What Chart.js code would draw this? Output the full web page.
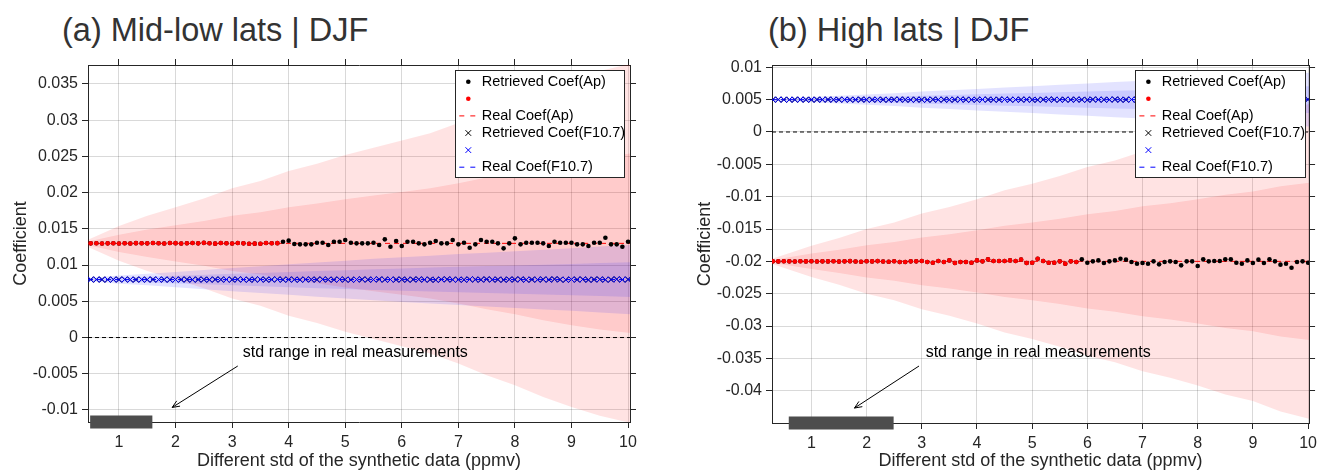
<!DOCTYPE html>
<html>
<head>
<meta charset="utf-8">
<title>Retrieved vs real coefficients</title>
<script src="https://cdn.jsdelivr.net/npm/chart.js@4.4.1/dist/chart.umd.min.js"></script>
<style>
  html, body { margin: 0; padding: 0; background: #fff; }
  body { position: relative; width: 1322px; height: 472px; overflow: hidden;
         font-family: "Liberation Sans", Arial, Helvetica, sans-serif; }
  .panel { position: absolute; top: 0; height: 472px; }
  .panel-title { position: absolute; top: 14px; margin: 0; font-size: 32.5px; font-weight: normal;
                 line-height: 1; color: #333; white-space: nowrap; }
</style>
</head>
<body>
<h2 class="panel-title" style="left:62px">(a) Mid-low lats | DJF</h2>
<h2 class="panel-title" style="left:768px">(b) High lats | DJF</h2>
<div class="panel" style="left:0;width:660px"><canvas id="chartA" width="660" height="472"></canvas></div>
<div class="panel" style="left:680px;width:642px"><canvas id="chartB" width="642" height="472"></canvas></div>
<script>
(function () {
  "use strict";

  const FONT = '"Liberation Sans", Arial, Helvetica, sans-serif';
  const INK = "#262626";
  const GRID = "rgba(0, 0, 0, 0.15)";

  // std grid of the synthetic data, 0.1 ppmv steps
  function stepGrid(from, to) {
    const out = [];
    for (let i = Math.round(from * 10); i <= Math.round(to * 10); i++) out.push(i / 10);
    return out;
  }

  // ---- shared labels ----
  const xTicks = [1, 2, 3, 4, 5, 6, 7, 8, 9, 10];
  const xTitle = "Different std of the synthetic data (ppmv)";
  const yTitle = "Coefficient";
  const noteText = "std range in real measurements";

  // ---- (a) Mid-low lats | DJF ----
  const xRangeA = [0.452, 10.035];
  const yRangeA = [-0.01166, 0.03762];
  const yTicksA = [-0.01, -0.005, 0, 0.005, 0.01, 0.015, 0.02, 0.025, 0.03, 0.035];
  const stdA = stepGrid(0.5, 10.0);
  const apRealA = 0.013;
  const f107RealA = 0.008;
  const apSigFromA = 3.9; // black dots from here on, red before
  const apRetrA = [
    0.01300, 0.01301, 0.01299, 0.01300, 0.01302, 0.01299, 0.01301, 0.01298, 0.01303, 0.01301,
    0.01300, 0.01304, 0.01301, 0.01298, 0.01305, 0.01303, 0.01297, 0.01302, 0.01305, 0.01300,
    0.01307, 0.01302, 0.01296, 0.01305, 0.01301, 0.01298, 0.01304, 0.01300, 0.01294, 0.01296,
    0.01295, 0.01304, 0.01302, 0.01303,
    0.01323, 0.01337, 0.01291, 0.01286, 0.01286, 0.01286, 0.01309, 0.01309, 0.01277, 0.01323,
    0.01323, 0.01346, 0.01309, 0.01300, 0.01300, 0.01300, 0.01309, 0.01277,
    0.01355, 0.01254, 0.01332, 0.01263, 0.01323, 0.01323, 0.01300, 0.01286, 0.01309, 0.01332,
    0.01300, 0.01300, 0.01346, 0.01286, 0.01309, 0.01240, 0.01286, 0.01346, 0.01323, 0.01323,
    0.01300, 0.01231, 0.01300, 0.01369, 0.01286, 0.01309, 0.01309, 0.01309, 0.01300, 0.01263,
    0.01323, 0.01309, 0.01309, 0.01309, 0.01286, 0.01286, 0.01263, 0.01309, 0.01309, 0.01378,
    0.01286, 0.01286, 0.01254, 0.01323
  ];
  const f107RetrA = [
    0.00800, 0.00801, 0.00800, 0.00799, 0.00801, 0.00800, 0.00802, 0.00799, 0.00800, 0.00801,
    0.00799, 0.00802, 0.00800, 0.00801, 0.00798, 0.00801, 0.00800, 0.00802, 0.00799, 0.00801,
    0.00800, 0.00798, 0.00802, 0.00800, 0.00801, 0.00799, 0.00803, 0.00800, 0.00798, 0.00801,
    0.00802, 0.00799, 0.00800, 0.00803, 0.00798, 0.00801, 0.00800, 0.00797, 0.00802, 0.00801,
    0.00799, 0.00803, 0.00800, 0.00798, 0.00802, 0.00800, 0.00797, 0.00801, 0.00803, 0.00799,
    0.00800, 0.00804, 0.00798, 0.00801, 0.00799, 0.00802, 0.00797, 0.00801, 0.00803, 0.00799,
    0.00800, 0.00796, 0.00802, 0.00804, 0.00799, 0.00800, 0.00797, 0.00803, 0.00801, 0.00798,
    0.00805, 0.00799, 0.00801, 0.00796, 0.00802, 0.00800, 0.00804, 0.00797, 0.00801, 0.00799,
    0.00803, 0.00798, 0.00806, 0.00800, 0.00797, 0.00802, 0.00799, 0.00804, 0.00796, 0.00801,
    0.00803, 0.00798, 0.00800, 0.00805, 0.00799, 0.00802
  ];
  // spread of the retrievals (1 sigma), sampled every 0.5 ppmv
  const bandXA = [0.45, 1.0, 1.5, 2.0, 2.5, 3.0, 3.5, 4.0, 4.5, 5.0, 5.5, 6.0, 6.5, 7.0, 7.5, 8.0, 8.5, 9.0, 9.5, 10.05];
  const apSigmaA = [0.00025, 0.0012, 0.0019, 0.0025, 0.0031, 0.0038, 0.0043, 0.0050, 0.0055, 0.0061,
                    0.0066, 0.0071, 0.0076, 0.0083, 0.0091, 0.0098, 0.0106, 0.0113, 0.0119, 0.0124];
  const f107SigmaA = [0.0001, 0.00028, 0.0004, 0.00053, 0.00066, 0.0008, 0.00092, 0.00105, 0.00118, 0.0013,
                      0.00143, 0.00154, 0.00165, 0.00176, 0.00186, 0.00196, 0.00206, 0.00216, 0.00228, 0.0024];
  const realStdA = [0.49, 1.59];
  const noteA = { textAt: [3.19, -0.00214], from: [3.10, -0.00393], to: [1.94, -0.00965] };

  // ---- (b) High lats | DJF ----
  const xRangeB = [0.286, 10.018];
  const yRangeB = [-0.04499, 0.010356];
  const yTicksB = [-0.04, -0.035, -0.03, -0.025, -0.02, -0.015, -0.01, -0.005, 0, 0.005, 0.01];
  const stdB = stepGrid(0.3, 10.0);
  const apRealB = -0.02;
  const f107RealB = 0.005;
  const apSigFromB = 5.9;
  const apRetrB = [
    -0.02000, -0.02001, -0.01999, -0.02000, -0.02002, -0.01999, -0.02001, -0.01998, -0.02003, -0.02000,
    -0.02001, -0.01998, -0.02004, -0.02000, -0.01997, -0.02002, -0.02005, -0.01999, -0.02001, -0.01996,
    -0.02003, -0.02006, -0.01999,
    -0.02010, -0.02010, -0.02000, -0.02000, -0.01995, -0.02010, -0.02021, -0.01995, -0.02010, -0.01985,
    -0.02026, -0.02010, -0.02010, -0.02021, -0.01985, -0.02000, -0.01969, -0.01995, -0.01995, -0.01995,
    -0.01985, -0.01995, -0.01974, -0.02026, -0.02021, -0.01959, -0.01995, -0.02021, -0.02021, -0.02000,
    -0.02036, -0.02000, -0.02010,
    -0.01969, -0.02021, -0.02000, -0.01985, -0.02026, -0.02000, -0.01985, -0.01959, -0.01974, -0.02010,
    -0.02036, -0.02026, -0.02036, -0.02000, -0.02046, -0.02010, -0.02000, -0.02010, -0.02062, -0.02000,
    -0.02000, -0.02072, -0.01969, -0.02000, -0.01995, -0.01995, -0.01969, -0.01969, -0.02021, -0.02036,
    -0.01985, -0.02026, -0.01974, -0.02026, -0.01969, -0.02000, -0.02051, -0.02036, -0.02098, -0.02010,
    -0.02000, -0.02021
  ];
  const f107RetrB = [
    0.00500, 0.00501, 0.00500, 0.00499, 0.00500, 0.00501, 0.00500, 0.00499, 0.00501, 0.00500,
    0.00502, 0.00499, 0.00500, 0.00501, 0.00499, 0.00500, 0.00502, 0.00500, 0.00499, 0.00501,
    0.00500, 0.00498, 0.00501, 0.00502, 0.00500, 0.00499, 0.00501, 0.00500, 0.00498, 0.00502,
    0.00500, 0.00501, 0.00499, 0.00500, 0.00503, 0.00499, 0.00500, 0.00498, 0.00502, 0.00501,
    0.00499, 0.00500, 0.00503, 0.00498, 0.00501, 0.00500, 0.00502, 0.00499, 0.00497, 0.00501,
    0.00503, 0.00500, 0.00498, 0.00501, 0.00499, 0.00502, 0.00500, 0.00497, 0.00503, 0.00501,
    0.00499, 0.00500, 0.00504, 0.00498, 0.00500, 0.00502, 0.00499, 0.00497, 0.00503, 0.00500,
    0.00501, 0.00498, 0.00504, 0.00500, 0.00499, 0.00502, 0.00497, 0.00501, 0.00503, 0.00499,
    0.00500, 0.00505, 0.00498, 0.00501, 0.00496, 0.00502, 0.00500, 0.00503, 0.00498, 0.00501,
    0.00504, 0.00499, 0.00500, 0.00497, 0.00502, 0.00501, 0.00499, 0.00503
  ];
  const bandXB = [0.29, 1.0, 1.5, 2.0, 2.5, 3.0, 3.5, 4.0, 4.5, 5.0, 5.5, 6.0, 6.5, 7.0, 7.5, 8.0, 8.5, 9.0, 9.5, 10.05];
  const apSigmaB = [0.0002, 0.0012, 0.0018, 0.0025, 0.0030, 0.0037, 0.0042, 0.0048, 0.0055, 0.0060,
                    0.0066, 0.0073, 0.0078, 0.0085, 0.0090, 0.0096, 0.0103, 0.0108, 0.0116, 0.0122];
  const f107SigmaB = [0.00006, 0.0002, 0.0003, 0.0004, 0.0005, 0.00062, 0.00072, 0.00083, 0.00094, 0.00104,
                      0.00115, 0.00125, 0.00136, 0.00146, 0.00156, 0.00166, 0.00177, 0.00187, 0.00197, 0.00208];
  const realStdB = [0.59, 2.49];
  const noteB = { textAt: [3.07, -0.03417], from: [2.95, -0.03618], to: [1.78, -0.04268] };

  // ---- helpers ----
  const pts = (xs, ys) => xs.map((x, i) => ({ x: x, y: ys[i] }));
  const flat = (x0, x1, y) => [{ x: x0, y: y }, { x: x1, y: y }];
  const band = (xs, centre, sig, k) => xs.map((x, i) => ({ x: x, y: centre + k * sig[i] }));

  const RED = "#ff0000";
  const BLUE = "#0000ff";
  const RED_FILL = "rgba(255, 0, 0, 0.11)";
  const BLUE_FILL = "rgba(0, 0, 255, 0.11)";

  function buildDatasets(p) {
    const hidden = "rgba(0,0,0,0)";
    const bandSet = (data, order, fill, colour) => ({
      data: data, order: order, fill: fill, backgroundColor: colour,
      borderColor: hidden, borderWidth: 0, pointRadius: 0
    });
    return [
      { label: "Retrieved Coef(Ap)", inLegend: true, order: 3, data: pts(p.xs, p.ap), showLine: false,
        pointStyle: "circle", pointRadius: 2.3, pointBackgroundColor: "#000", pointBorderColor: "#000", pointBorderWidth: 0 },
      { label: "", inLegend: true, order: 2, data: pts(p.xs, p.ap).filter((d) => d.x < p.sigFrom), showLine: false,
        pointStyle: "circle", pointRadius: 2.3, pointBackgroundColor: RED, pointBorderColor: RED, pointBorderWidth: 0 },
      { label: "Real Coef(Ap)", inLegend: true, order: 6, data: flat(p.xMin, p.xMax, p.apReal),
        borderColor: RED, borderWidth: 1, borderDash: [5, 4], pointRadius: 0 },
      { label: "Retrieved Coef(F10.7)", inLegend: true, order: 5, data: pts(p.xs, p.f107), showLine: false,
        pointStyle: "crossRot", pointRadius: 4, pointBorderColor: "#000", pointBorderWidth: 1 },
      { label: "", inLegend: true, order: 4, data: pts(p.xs, p.f107), showLine: false,
        pointStyle: "crossRot", pointRadius: 4, pointBorderColor: BLUE, pointBorderWidth: 1 },
      { label: "Real Coef(F10.7)", inLegend: true, order: 7, data: flat(p.xMin, p.xMax, p.f107Real),
        borderColor: BLUE, borderWidth: 1, borderDash: [5, 4], pointRadius: 0 },
      { label: "zero", order: 8, data: flat(p.xMin, p.xMax, 0),
        borderColor: "#000", borderWidth: 1, borderDash: [4, 3], pointRadius: 0 },
      // 2 sigma / 1 sigma bands (indices 7..14)
      bandSet(band(p.bandX, p.apReal, p.apSig, 2), 12, 8, RED_FILL),
      bandSet(band(p.bandX, p.apReal, p.apSig, -2), 12, false, RED_FILL),
      bandSet(band(p.bandX, p.apReal, p.apSig, 1), 11, 10, RED_FILL),
      bandSet(band(p.bandX, p.apReal, p.apSig, -1), 11, false, RED_FILL),
      bandSet(band(p.bandX, p.f107Real, p.fSig, 2), 10, 12, BLUE_FILL),
      bandSet(band(p.bandX, p.f107Real, p.fSig, -2), 10, false, BLUE_FILL),
      bandSet(band(p.bandX, p.f107Real, p.fSig, 1), 9, 14, BLUE_FILL),
      bandSet(band(p.bandX, p.f107Real, p.fSig, -1), 9, false, BLUE_FILL),
      // std range of the real measurements, sitting on the x axis
      { label: "real std", order: 1, data: flat(p.realStd[0], p.realStd[1], p.yMin), clip: false,
        borderColor: "#4d4d4d", borderWidth: 13, borderCapStyle: "butt", pointRadius: 0 }
    ];
  }

  // legend box drawn inside the axes, top right
  const legendBox = {
    id: "legendBox",
    afterDatasetsDraw(chart, args, o) {
      const ctx = chart.ctx;
      const a = chart.chartArea;
      const items = chart.data.datasets.filter((d) => d.inLegend);
      const x0 = Math.round(a.right - o.inset - o.width);
      const y0 = Math.round(a.top + o.top);
      ctx.save();
      ctx.fillStyle = "#fff";
      ctx.fillRect(x0, y0, o.width, o.height);
      ctx.strokeStyle = INK;
      ctx.lineWidth = 1;
      ctx.strokeRect(x0 + 0.5, y0 + 0.5, o.width, o.height);
      ctx.font = "14.5px " + FONT;
      ctx.textBaseline = "middle";
      items.forEach((d, i) => {
        const cy = y0 + o.firstRow + i * o.rowGap;
        const mx = x0 + o.markX;
        if (d.showLine === false && d.pointStyle === "circle") {
          ctx.fillStyle = d.pointBackgroundColor;
          ctx.beginPath();
          ctx.arc(mx, cy, d.pointRadius, 0, Math.PI * 2);
          ctx.fill();
        } else if (d.showLine === false) {
          const r = d.pointRadius * Math.SQRT1_2;
          ctx.strokeStyle = d.pointBorderColor;
          ctx.setLineDash([]);
          ctx.beginPath();
          ctx.moveTo(mx - r, cy - r); ctx.lineTo(mx + r, cy + r);
          ctx.moveTo(mx - r, cy + r); ctx.lineTo(mx + r, cy - r);
          ctx.stroke();
        } else {
          ctx.strokeStyle = d.borderColor;
          ctx.setLineDash([5, 6]);
          ctx.beginPath();
          ctx.moveTo(mx - 9, cy); ctx.lineTo(mx + 9, cy);
          ctx.stroke();
          ctx.setLineDash([]);
        }
        if (d.label) {
          ctx.fillStyle = "#000";
          ctx.fillText(d.label, x0 + o.textX, cy);
        }
      });
      ctx.restore();
    }
  };

  // text + arrow pointing at the real-measurement std range
  const arrowNote = {
    id: "arrowNote",
    afterDatasetsDraw(chart, args, o) {
      const ctx = chart.ctx;
      const sx = chart.scales.x, sy = chart.scales.y;
      const x0 = sx.getPixelForValue(o.from[0]), y0 = sy.getPixelForValue(o.from[1]);
      const x1 = sx.getPixelForValue(o.to[0]), y1 = sy.getPixelForValue(o.to[1]);
      ctx.save();
      ctx.fillStyle = "#000";
      ctx.font = "16px " + FONT;
      ctx.textBaseline = "middle";
      ctx.fillText(o.text, sx.getPixelForValue(o.textAt[0]), sy.getPixelForValue(o.textAt[1]));
      ctx.strokeStyle = "#000";
      ctx.lineWidth = 1;
      ctx.beginPath();
      ctx.moveTo(x0, y0);
      ctx.lineTo(x1, y1);
      ctx.stroke();
      const ang = Math.atan2(y1 - y0, x1 - x0);
      const L = 8, w = 0.4;
      ctx.beginPath();
      ctx.moveTo(x1 - L * Math.cos(ang - w), y1 - L * Math.sin(ang - w));
      ctx.lineTo(x1, y1);
      ctx.lineTo(x1 - L * Math.cos(ang + w), y1 - L * Math.sin(ang + w));
      ctx.stroke();
      ctx.restore();
    }
  };

  function buildScales(p) {
    const setTicks = (arr) => (s) => { s.ticks = arr.map((v) => ({ value: v })); };
    const tickFont = () => ({ family: FONT, size: 16 });
    const border = () => ({ color: INK, width: 1 });
    return {
      x: {
        type: "linear", position: "bottom", min: p.xMin, max: p.xMax,
        afterBuildTicks: setTicks(xTicks),
        afterFit: (s) => { s.height = p.xAxisH; },
        ticks: { font: tickFont(), color: INK, padding: 5, maxRotation: 0, autoSkip: false, callback: (v) => String(v) },
        grid: { color: GRID, tickColor: INK, tickLength: 6, lineWidth: 1 },
        border: border(),
        title: { display: true, text: xTitle, color: INK, font: { family: FONT, size: 18 }, padding: { top: 0, bottom: 0 } }
      },
      x2: {
        type: "linear", position: "top", min: p.xMin, max: p.xMax,
        afterBuildTicks: setTicks(xTicks),
        afterFit: (s) => { s.height = 6; },
        ticks: { display: false },
        grid: { drawOnChartArea: false, tickColor: INK, tickLength: 6 },
        border: border()
      },
      y: {
        type: "linear", position: "left", min: p.yMin, max: p.yMax,
        afterBuildTicks: setTicks(p.yTicks),
        afterFit: (s) => { s.width = p.yAxisW; },
        ticks: { font: tickFont(), color: INK, padding: 4, autoSkip: false, callback: (v) => String(v) },
        grid: { color: GRID, tickColor: INK, tickLength: 6, lineWidth: 1 },
        border: border(),
        title: { display: true, text: yTitle, color: INK, font: { family: FONT, size: 18 }, padding: { top: p.yTitlePad, bottom: 0 } }
      },
      y2: {
        type: "linear", position: "right", min: p.yMin, max: p.yMax,
        afterBuildTicks: setTicks(p.yTicks),
        afterFit: (s) => { s.width = 6; },
        ticks: { display: false },
        grid: { drawOnChartArea: false, tickColor: INK, tickLength: 6 },
        border: border()
      }
    };
  }

  function makeChart(canvasId, p) {
    return new Chart(document.getElementById(canvasId), {
      type: "line",
      data: { datasets: buildDatasets(p) },
      options: {
        responsive: false,
        devicePixelRatio: 1,
        animation: false,
        events: [],
        layout: { padding: p.padding },
        elements: { line: { tension: 0 }, point: { radius: 0 } },
        scales: buildScales(p),
        plugins: {
          legend: { display: false },
          tooltip: { enabled: false },
          title: { display: false },
          legendBox: p.legend,
          arrowNote: { text: noteText, textAt: p.note.textAt, from: p.note.from, to: p.note.to }
        }
      },
      plugins: [legendBox, arrowNote]
    });
  }

  const legendRows = { top: 5, height: 107, firstRow: 11.7, rowGap: 17.1, textX: 26.7 };

  makeChart("chartA", {
    xs: stdA, ap: apRetrA, f107: f107RetrA, sigFrom: apSigFromA,
    apReal: apRealA, f107Real: f107RealA,
    bandX: bandXA, apSig: apSigmaA, fSig: f107SigmaA, realStd: realStdA,
    xMin: xRangeA[0], xMax: xRangeA[1], yMin: yRangeA[0], yMax: yRangeA[1], yTicks: yTicksA,
    padding: { left: 0, right: 24, top: 59, bottom: 0 },
    xAxisH: 50, yAxisW: 88, yTitlePad: 10,
    legend: Object.assign({ inset: 6, width: 169, markX: 13.3 }, legendRows),
    note: noteA
  });

  makeChart("chartB", {
    xs: stdB, ap: apRetrB, f107: f107RetrB, sigFrom: apSigFromB,
    apReal: apRealB, f107Real: f107RealB,
    bandX: bandXB, apSig: apSigmaB, fSig: f107SigmaB, realStd: realStdB,
    xMin: xRangeB[0], xMax: xRangeB[1], yMin: yRangeB[0], yMax: yRangeB[1], yTicks: yTicksB,
    padding: { left: 0, right: 3, top: 59, bottom: 0 },
    xAxisH: 49, yAxisW: 92, yTitlePad: 14,
    legend: Object.assign({ inset: 4, width: 170, markX: 13.4 }, legendRows),
    note: noteB
  });
})();
</script>
</body>
</html>
